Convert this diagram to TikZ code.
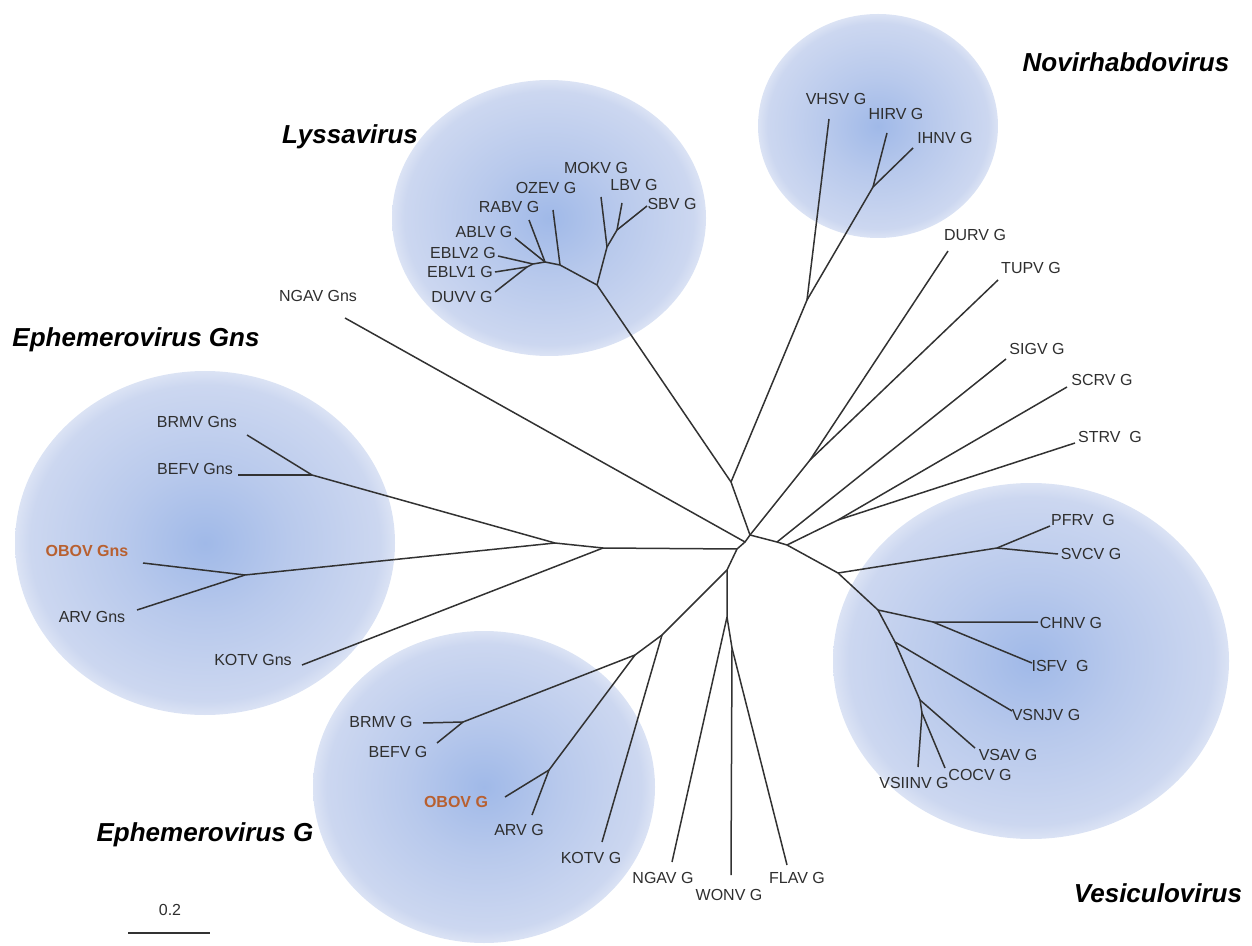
\documentclass[tikz,border=0pt]{standalone}
\usepackage{fontspec}
\setmainfont{Liberation Sans}
\usetikzlibrary{calc}
\definecolor{blobin}{RGB}{160,185,232}
\definecolor{blobmid}{RGB}{184,201,236}
\definecolor{blobout}{RGB}{204,215,240}
\definecolor{branch}{RGB}{50,50,50}
\definecolor{obov}{RGB}{184,96,48}
\pgfdeclareradialshading{blob}{\pgfpoint{0bp}{0bp}}{color(0bp)=(blobin); color(11bp)=(blobmid); color(23bp)=(blobout); color(25bp)=(blobout!70!white); color(50bp)=(white)}

\begin{document}
\begin{tikzpicture}[x=0.5pt,y=-0.5pt,line join=round,
lab/.style={font=\fontsize{8}{9}\selectfont,text=black!82,inner sep=0pt},
obo/.style={lab,font=\fontsize{8}{9}\selectfont\bfseries,text=obov},
genus/.style={font=\fontsize{13}{15}\selectfont\bfseries\itshape,inner sep=0pt},
br/.style={draw=branch,line width=0.75pt}]
\useasboundingbox (0,0) rectangle (1252,946);

% clade backgrounds
\shade[shading=blob] (549,218) ellipse [x radius=157,y radius=138];
\shade[shading=blob] (878,126) ellipse [x radius=120,y radius=112];
\shade[shading=blob] (205,543) ellipse [x radius=190,y radius=172];
\shade[shading=blob] (484,787) ellipse [x radius=171,y radius=156];
\shade[shading=blob] (1031,661) ellipse [x radius=198,y radius=178];

% genus names
\node[genus] (lyss) at (350,137) {Lyssavirus};
\node[genus] (novi) at (1126,62) {Novirhabdovirus};
\node[genus] (ephns) at (136,340) {Ephemerovirus Gns};
\node[genus] (ephg) at (205,835) {Ephemerovirus G};
\node[genus] (vesi) at (1158,893) {Vesiculovirus};

% inner nodes
\coordinate (c1) at (750,535);
\coordinate (cn) at (745,542);
\coordinate (c2) at (737,549);
\coordinate (c3) at (777,542);
\coordinate (c4) at (727,570);
\coordinate (c5) at (787,545);
\coordinate (ln) at (731,482);
\coordinate (dt) at (810,460);
\coordinate (l0) at (597,285);
\coordinate (l1) at (560,265);
\coordinate (l2) at (545,262);
\coordinate (l3) at (533,264);
\coordinate (l4) at (527,267);
\coordinate (l5) at (607,247);
\coordinate (l6) at (617,230);
\coordinate (n0) at (807,300);
\coordinate (n1) at (873,187);
\coordinate (ss) at (838,520);
\coordinate (v0) at (838,573);
\coordinate (p0) at (997,548);
\coordinate (v1) at (878,610);
\coordinate (ci) at (933,622);
\coordinate (v2) at (895,642);
\coordinate (v3) at (920,700);
\coordinate (v4) at (922,713);
\coordinate (g0) at (603,548);
\coordinate (g0a) at (555,543);
\coordinate (g1) at (312,475);
\coordinate (g2) at (245,575);
\coordinate (e4) at (662,635);
\coordinate (e2) at (635,655);
\coordinate (e3) at (549,770);
\coordinate (e1) at (463,722);
\coordinate (b0) at (727,617);
\coordinate (b1) at (732,648);

% leaf ends
\coordinate (t-mokv) at (601,197);
\coordinate (t-ozev) at (553,210);
\coordinate (t-lbv) at (622,203);
\coordinate (t-rabv) at (529,220);
\coordinate (t-sbv) at (647,206);
\coordinate (t-ablv) at (515,238);
\coordinate (t-eblv2) at (498,256);
\coordinate (t-eblv1) at (495,272);
\coordinate (t-duvv) at (495,292);
\coordinate (t-vhsv) at (829,119);
\coordinate (t-hirv) at (887,133);
\coordinate (t-ihnv) at (913,148);
\coordinate (t-durv) at (948,251);
\coordinate (t-tupv) at (998,280);
\coordinate (t-sigv) at (1006,359);
\coordinate (t-scrv) at (1067,387);
\coordinate (t-strv) at (1075,443);
\coordinate (t-pfrv) at (1050,526);
\coordinate (t-svcv) at (1058,554);
\coordinate (t-chnv) at (1038,622);
\coordinate (t-isfv) at (1032,663);
\coordinate (t-vsnjv) at (1012,711);
\coordinate (t-vsav) at (975,748);
\coordinate (t-cocv) at (945,768);
\coordinate (t-vsiinv) at (918,767);
\coordinate (t-ngavg) at (672,862);
\coordinate (t-wonv) at (731,875);
\coordinate (t-flav) at (787,865);
\coordinate (t-kotvg) at (602,842);
\coordinate (t-arvg) at (532,815);
\coordinate (t-obovg) at (505,797);
\coordinate (t-befvg) at (437,743);
\coordinate (t-brmvg) at (423,723);
\coordinate (t-kotvn) at (302,665);
\coordinate (t-arvn) at (137,610);
\coordinate (t-obovn) at (143,563);
\coordinate (t-befvn) at (238,475);
\coordinate (t-brmvn) at (247,435);
\coordinate (t-ngavn) at (345,318);

% leaf names
\node[lab] (mokv) at (596,168) {MOKV G};
\node[lab] (ozev) at (546,188) {OZEV G};
\node[lab] (lbv) at (634,185) {LBV G};
\node[lab] (rabv) at (509,207) {RABV G};
\node[lab] (sbv) at (672,204) {SBV G};
\node[lab] (ablv) at (484,232) {ABLV G};
\node[lab] (eblv2) at (463,253) {EBLV2 G};
\node[lab] (eblv1) at (460,272) {EBLV1 G};
\node[lab] (duvv) at (462,297) {DUVV G};
\node[lab] (vhsv) at (836,99) {VHSV G};
\node[lab] (hirv) at (896,114) {HIRV G};
\node[lab] (ihnv) at (945,138) {IHNV G};
\node[lab] (durv) at (975,235) {DURV G};
\node[lab] (tupv) at (1031,268) {TUPV G};
\node[lab] (sigv) at (1037,349) {SIGV G};
\node[lab] (scrv) at (1102,380) {SCRV G};
\node[lab] (strv) at (1110,437) {STRV\ \ G};
\node[lab] (pfrv) at (1083,520) {PFRV\ \ G};
\node[lab] (svcv) at (1091,554) {SVCV G};
\node[lab] (chnv) at (1071,623) {CHNV G};
\node[lab] (isfv) at (1060,666) {ISFV\ \ G};
\node[lab] (vsnjv) at (1046,715) {VSNJV G};
\node[lab] (vsav) at (1008,755) {VSAV G};
\node[lab] (cocv) at (980,775) {COCV G};
\node[lab] (vsiinv) at (914,783) {VSIINV G};
\node[lab] (ngavg) at (663,878) {NGAV G};
\node[lab] (wonv) at (729,895) {WONV G};
\node[lab] (flav) at (797,878) {FLAV G};
\node[lab] (kotvg) at (591,858) {KOTV G};
\node[lab] (arvg) at (519,830) {ARV G};
\node[obo] (obovg) at (456,802) {OBOV G};
\node[lab] (befvg) at (398,752) {BEFV G};
\node[lab] (brmvg) at (381,722) {BRMV G};
\node[lab] (kotvn) at (253,660) {KOTV Gns};
\node[lab] (arvn) at (92,617) {ARV Gns};
\node[obo] (obovn) at (87,551) {OBOV Gns};
\node[lab] (befvn) at (195,469) {BEFV Gns};
\node[lab] (brmvn) at (197,422) {BRMV Gns};
\node[lab] (ngavn) at (318,296) {NGAV Gns};

% branches
\draw[br] (c1) -- (cn) -- (c2) -- (c4) -- (b0) -- (b1) -- (t-wonv);
\draw[br] (b0) -- (t-ngavg);
\draw[br] (b1) -- (t-flav);
\draw[br] (cn) -- (t-ngavn);
\draw[br] (c1) -- (ln) -- (l0) -- (l1) -- (l2) -- (l3) -- (l4) -- (t-duvv);
\draw[br] (l1) -- (t-ozev);
\draw[br] (l2) -- (t-rabv);
\draw[br] (l2) -- (t-ablv);
\draw[br] (l3) -- (t-eblv2);
\draw[br] (l4) -- (t-eblv1);
\draw[br] (l0) -- (l5) -- (t-mokv);
\draw[br] (l5) -- (l6) -- (t-sbv);
\draw[br] (l6) -- (t-lbv);
\draw[br] (ln) -- (n0) -- (t-vhsv);
\draw[br] (n0) -- (n1) -- (t-hirv);
\draw[br] (n1) -- (t-ihnv);
\draw[br] (c1) -- (dt) -- (t-durv);
\draw[br] (dt) -- (t-tupv);
\draw[br] (c1) -- (c3) -- (c5) -- (v0);
\draw[br] (c3) -- (t-sigv);
\draw[br] (c5) -- (ss) -- (t-scrv);
\draw[br] (ss) -- (t-strv);
\draw[br] (v0) -- (p0) -- (t-pfrv);
\draw[br] (p0) -- (t-svcv);
\draw[br] (v0) -- (v1) -- (ci) -- (t-chnv);
\draw[br] (ci) -- (t-isfv);
\draw[br] (v1) -- (v2) -- (t-vsnjv);
\draw[br] (v2) -- (v3) -- (t-vsav);
\draw[br] (v3) -- (v4) -- (t-vsiinv);
\draw[br] (v4) -- (t-cocv);
\draw[br] (c2) -- (g0) -- (g0a) -- (g1) -- (t-brmvn);
\draw[br] (g1) -- (t-befvn);
\draw[br] (g0a) -- (g2) -- (t-obovn);
\draw[br] (g2) -- (t-arvn);
\draw[br] (g0) -- (t-kotvn);
\draw[br] (c4) -- (e4) -- (e2) -- (e1) -- (t-brmvg);
\draw[br] (e1) -- (t-befvg);
\draw[br] (e4) -- (t-kotvg);
\draw[br] (e2) -- (e3) -- (t-obovg);
\draw[br] (e3) -- (t-arvg);

% scale
\coordinate (sc-a) at (128,933);
\coordinate (sc-b) at (210,933);
\draw[br] (sc-a) -- (sc-b);
\node[lab] (scale) at (170,910) {0.2};
\end{tikzpicture}
\end{document}
